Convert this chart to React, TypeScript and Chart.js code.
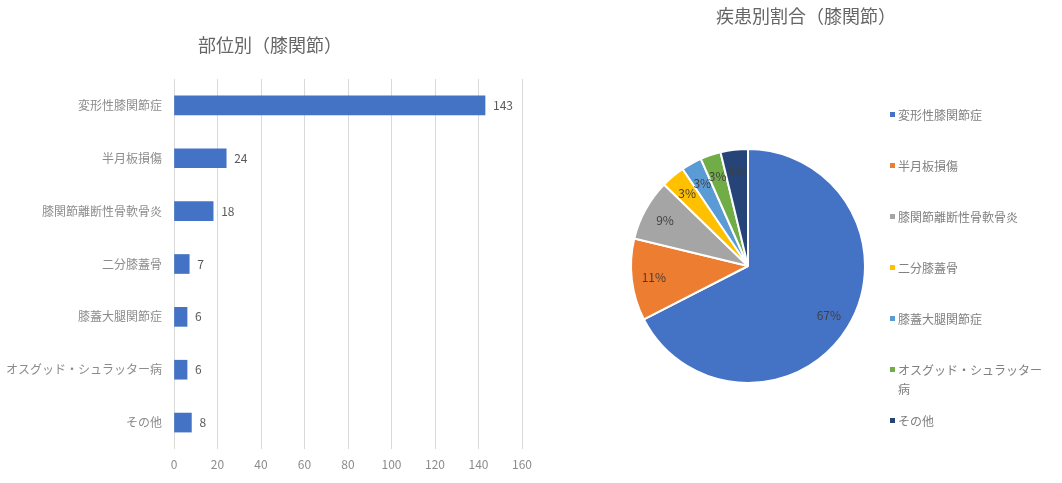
import React, { useEffect, useRef } from "react";
import { Chart, registerables } from "chart.js";

Chart.register(...registerables);

const FONT = "'Noto Sans CJK JP', 'Noto Sans', sans-serif";

const categories = [
    "変形性膝関節症",
    "半月板損傷",
    "膝関節離断性骨軟骨炎",
    "二分膝蓋骨",
    "膝蓋大腿関節症",
    "オスグッド・シュラッター病",
    "その他",
];
const counts = [143, 24, 18, 7, 6, 6, 8];
const pieLabels = ["67%", "11%", "9%", "3%", "3%", "3%", "4%"];
const pieColors = ["#4472C4", "#ED7D31", "#A5A5A5", "#FFC000", "#5B9BD5", "#70AD47", "#264478"];
const xTicks = [0, 20, 40, 60, 80, 100, 120, 140, 160];

const barTitle = "部位別（膝関節）";
const pieTitle = "疾患別割合（膝関節）";

const BarChart = () => {
    const canvasRef = useRef<HTMLCanvasElement | null>(null);

    useEffect(() => {
        const ctx = canvasRef.current?.getContext("2d");
        if (!ctx) return;

        const extras = {
            id: "barExtras",
            afterDraw(chart: any) {
                const c = chart.ctx;
                c.save();
                c.fillStyle = "#666666";
                c.font = `18px ${FONT}`;
                c.textAlign = "center";
                c.textBaseline = "middle";
                c.fillText(barTitle, 270, 45);

                // value labels
                c.font = `12px ${FONT}`;
                c.textAlign = "left";
                c.fillStyle = "#595959";
                const meta = chart.getDatasetMeta(0);
                meta.data.forEach((bar: any, i: number) => {
                    c.fillText(String(counts[i]), bar.x + 8, bar.y);
                });
                c.restore();
            },
        };

        const chart = new Chart(ctx, {
            type: "bar",
            data: {
                labels: categories,
                datasets: [
                    {
                        data: counts,
                        backgroundColor: "#4472C4",
                        barThickness: 19,
                    },
                ],
            },
            options: {
                indexAxis: "y",
                animation: false,
                responsive: false,
                layout: { padding: { top: 79, right: 18, left: 0, bottom: 0 } },
                plugins: {
                    legend: { display: false },
                    tooltip: { enabled: false },
                },
                scales: {
                    x: {
                        min: 0,
                        max: 160,
                        afterBuildTicks: (scale: any) => {
                            scale.ticks = xTicks.map((v) => ({ value: v }));
                        },
                        afterFit: (scale: any) => {
                            scale.height = 34;
                        },
                        grid: { color: "#d9d9d9", drawTicks: false },
                        border: { display: false },
                        ticks: {
                            padding: 8,
                            color: "#8c8c8c",
                            font: { family: FONT, size: 12 },
                        },
                    },
                    y: {
                        afterFit: (scale: any) => {
                            scale.width = 174;
                        },
                        grid: { display: false, drawTicks: false },
                        border: { display: false },
                        ticks: {
                            padding: 12,
                            color: "#8c8c8c",
                            font: { family: FONT, size: 12 },
                        },
                    },
                },
            },
            plugins: [extras],
        });

        return () => {
            chart.destroy();
        };
    }, []);

    return (
        <canvas
            ref={canvasRef}
            width={540}
            height={483}
            style={{ position: "absolute", left: 0, top: 0, width: 540, height: 483 }}
        />
    );
};

const PieChart = () => {
    const canvasRef = useRef<HTMLCanvasElement | null>(null);

    useEffect(() => {
        const ctx = canvasRef.current?.getContext("2d");
        if (!ctx) return;

        const extras = {
            id: "pieExtras",
            afterDraw(chart: any) {
                const c = chart.ctx;
                const area = chart.chartArea;
                c.save();
                c.fillStyle = "#666666";
                c.font = `18px ${FONT}`;
                c.textAlign = "center";
                c.textBaseline = "middle";
                c.fillText(pieTitle, 266, 16);

                // percentage labels inside slices
                c.font = `12px ${FONT}`;
                c.fillStyle = "#404040";
                const meta = chart.getDatasetMeta(0);
                meta.data.forEach((arc: any, i: number) => {
                    const mid = (arc.startAngle + arc.endAngle) / 2;
                    const r = arc.outerRadius * 0.81;
                    c.fillText(pieLabels[i], arc.x + Math.cos(mid) * r, arc.y + Math.sin(mid) * r);
                });

                // legend
                const boxX = area.right + 24;
                const textX = boxX + 8;
                const maxW = chart.width - textX - 12;
                let y = 115;
                c.textAlign = "left";
                categories.forEach((label, i) => {
                    c.fillStyle = pieColors[i];
                    c.fillRect(boxX, y - 3, 5, 5);
                    c.fillStyle = "#808080";
                    const lines: string[] = [];
                    let line = "";
                    for (const ch of label) {
                        if (c.measureText(line + ch).width > maxW && line) {
                            lines.push(line);
                            line = ch;
                        } else {
                            line += ch;
                        }
                    }
                    lines.push(line);
                    lines.forEach((l, j) => c.fillText(l, textX, y + j * 19));
                    y += 51;
                });
                c.restore();
            },
        };

        const chart = new Chart(ctx, {
            type: "pie",
            data: {
                labels: categories,
                datasets: [
                    {
                        data: counts,
                        backgroundColor: pieColors,
                        borderColor: "#ffffff",
                        borderWidth: 2,
                    },
                ],
            },
            options: {
                animation: false,
                responsive: false,
                layout: { padding: { top: 148, left: 90, right: 196, bottom: 99 } },
                plugins: {
                    legend: { display: false },
                    tooltip: { enabled: false },
                },
            },
            plugins: [extras],
        });

        return () => {
            chart.destroy();
        };
    }, []);

    return (
        <canvas
            ref={canvasRef}
            width={522}
            height={483}
            style={{ position: "absolute", left: 540, top: 0, width: 522, height: 483 }}
        />
    );
};

const App = () => {
    useEffect(() => {
        document.body.style.margin = "0";
    }, []);

    return (
        <div style={{ position: "relative", width: 1062, height: 483, background: "#ffffff" }}>
            <BarChart />
            <PieChart />
        </div>
    );
};

export default App;
